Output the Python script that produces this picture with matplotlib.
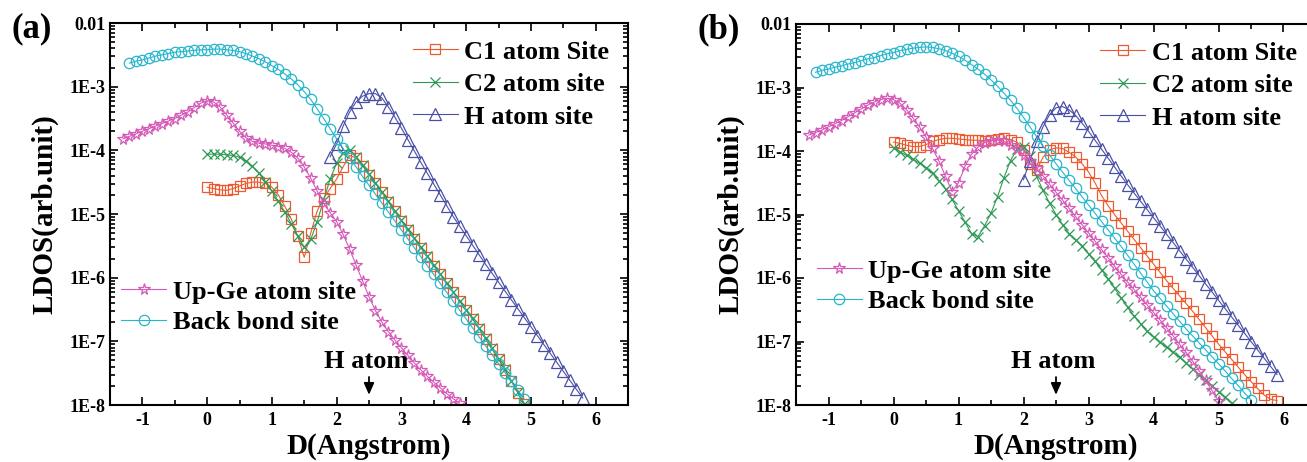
import numpy as np
import matplotlib
matplotlib.use("Agg")
import matplotlib.pyplot as plt
from matplotlib.ticker import LogLocator, FixedLocator, FixedFormatter, MultipleLocator, NullFormatter

plt.rcParams['font.family'] = ['Liberation Serif', 'DejaVu Serif']
plt.rcParams['font.weight'] = 'bold'
plt.rcParams['axes.unicode_minus'] = False

# sampling step of the LDOS profiles along D (Angstrom)
STEP = 0.1

# ---- panel (a): log10 LDOS ----
a_cyan_x0 = -1.2
a_cyan = [-2.63, -2.60, -2.58, -2.55, -2.52, -2.50, -2.48, -2.46, -2.45, -2.44,
          -2.43, -2.42, -2.42, -2.41, -2.41, -2.42, -2.43, -2.45, -2.48, -2.52,
          -2.56, -2.61, -2.67, -2.73, -2.80, -2.88, -2.97, -3.08, -3.20, -3.35,
          -3.50, -3.66, -3.82, -3.97, -4.12, -4.26, -4.41, -4.55, -4.69, -4.83,
          -4.97, -5.11, -5.25, -5.39, -5.53, -5.67, -5.81, -5.95, -6.09, -6.23,
          -6.37, -6.51, -6.65, -6.79, -6.93, -7.07, -7.21, -7.35, -7.49, -7.63,
          -7.77, -7.91]
a_green_x0 = 0.0
a_green = [-4.06, -4.06, -4.06, -4.07, -4.08, -4.11, -4.17, -4.25, -4.36, -4.49,
           -4.64, -4.80, -4.97, -5.15, -5.35, -5.52, -5.40, -5.12, -4.78, -4.45,
           -4.20, -4.04, -4.00, -4.10, -4.23, -4.37, -4.51, -4.65, -4.80, -4.95,
           -5.10, -5.24, -5.38, -5.52, -5.66, -5.80, -5.94, -6.08, -6.22, -6.36,
           -6.50, -6.64, -6.79, -6.95, -7.11, -7.27, -7.44, -7.62, -7.80, -7.98]
a_orange_x0 = 0.0
a_orange = [-4.58, -4.60, -4.62, -4.63, -4.60, -4.56, -4.52, -4.50, -4.50, -4.52,
            -4.58, -4.70, -4.88, -5.08, -5.35, -5.68, -5.30, -4.95, -4.75, -4.60,
            -4.45, -4.26, -4.08, -4.12, -4.24, -4.38, -4.52, -4.66, -4.81, -4.96,
            -5.11, -5.25, -5.39, -5.53, -5.67, -5.81, -5.95, -6.09, -6.23, -6.37,
            -6.51, -6.65, -6.80, -6.96, -7.12, -7.28, -7.45, -7.63, -7.81, -7.99]
a_pink_x0 = -1.3
a_pink = [-3.82, -3.78, -3.74, -3.70, -3.66, -3.62, -3.58, -3.54, -3.50, -3.45,
          -3.40, -3.33, -3.26, -3.22, -3.24, -3.32, -3.44, -3.57, -3.70, -3.80,
          -3.86, -3.89, -3.90, -3.92, -3.94, -3.97, -4.03, -4.12, -4.26, -4.44,
          -4.64, -4.83, -4.98, -5.12, -5.32, -5.55, -5.80, -6.05, -6.30, -6.52,
          -6.70, -6.85, -6.98, -7.10, -7.22, -7.34, -7.45, -7.55, -7.64, -7.73,
          -7.82, -7.90, -7.97]
a_blue_x0 = 1.9
a_blue = [-4.10, -3.90, -3.62, -3.40, -3.24, -3.15, -3.11, -3.11, -3.18, -3.32,
          -3.48, -3.65, -3.83, -4.01, -4.19, -4.36, -4.53, -4.70, -4.87, -5.04,
          -5.19, -5.34, -5.49, -5.64, -5.79, -5.93, -6.07, -6.21, -6.35, -6.49,
          -6.63, -6.77, -6.91, -7.05, -7.19, -7.33, -7.47, -7.61, -7.75, -7.89]

# ---- panel (b) ----
b_cyan_x0 = -1.2
b_cyan = [-2.76, -2.73, -2.71, -2.68, -2.66, -2.63, -2.61, -2.58, -2.55, -2.53,
          -2.50, -2.47, -2.45, -2.42, -2.40, -2.38, -2.37, -2.36, -2.37, -2.39,
          -2.42, -2.46, -2.51, -2.57, -2.64, -2.71, -2.79, -2.88, -2.98, -3.09,
          -3.20, -3.33, -3.47, -3.62, -3.77, -3.92, -4.06, -4.20, -4.33, -4.46,
          -4.59, -4.72, -4.85, -4.98, -5.11, -5.24, -5.37, -5.50, -5.64, -5.78,
          -5.92, -6.06, -6.20, -6.32, -6.44, -6.56, -6.68, -6.80, -6.91, -7.02,
          -7.13, -7.24, -7.35, -7.46, -7.58, -7.69, -7.81, -7.92]
b_orange_x0 = 0.0
b_orange = [-3.86, -3.88, -3.91, -3.93, -3.93, -3.90, -3.85, -3.82, -3.80, -3.80,
            -3.81, -3.82, -3.83, -3.83, -3.84, -3.83, -3.81, -3.80, -3.82, -3.86,
            -3.98, -4.20, -4.30, -4.10, -3.98, -3.95, -3.96, -4.02, -4.09, -4.20,
            -4.33, -4.50, -4.70, -4.86, -5.00, -5.13, -5.26, -5.39, -5.52, -5.65,
            -5.78, -5.91, -6.04, -6.16, -6.28, -6.40, -6.52, -6.65, -6.78, -6.91,
            -7.04, -7.16, -7.28, -7.40, -7.52, -7.63, -7.74, -7.84, -7.91, -7.93]
b_green_x0 = 0.0
b_green = [-3.95, -4.01, -4.07, -4.13, -4.19, -4.26, -4.35, -4.47, -4.60, -4.76,
           -4.94, -5.12, -5.30, -5.35, -5.18, -4.98, -4.72, -4.42, -4.15, -3.97,
           -3.93, -4.08, -4.40, -4.62, -4.82, -5.00, -5.16, -5.30, -5.40, -5.50,
           -5.62, -5.74, -5.87, -6.01, -6.16, -6.31, -6.46, -6.60, -6.72, -6.84,
           -6.93, -7.01, -7.09, -7.17, -7.25, -7.34, -7.43, -7.52, -7.61, -7.70,
           -7.79, -7.88, -7.97]
b_pink_x0 = -1.3
b_pink = [-3.75, -3.71, -3.67, -3.62, -3.57, -3.52, -3.46, -3.40, -3.34, -3.28,
          -3.23, -3.19, -3.17, -3.19, -3.25, -3.35, -3.48, -3.62, -3.78, -3.96,
          -4.16, -4.40, -4.64, -4.50, -4.24, -4.05, -3.94, -3.87, -3.84, -3.83,
          -3.85, -3.90, -3.97, -4.06, -4.15, -4.27, -4.39, -4.52, -4.65, -4.77,
          -4.90, -5.03, -5.16, -5.29, -5.42, -5.55, -5.68, -5.81, -5.94, -6.06,
          -6.18, -6.30, -6.42, -6.54, -6.66, -6.78, -6.91, -7.04, -7.17, -7.31,
          -7.46, -7.61, -7.77, -7.93]
b_blue_x0 = 2.0
b_blue = [-4.45, -4.15, -3.85, -3.62, -3.43, -3.32, -3.30, -3.35, -3.44, -3.56,
          -3.69, -3.83, -3.97, -4.11, -4.25, -4.39, -4.53, -4.66, -4.79, -4.92,
          -5.05, -5.18, -5.31, -5.44, -5.57, -5.70, -5.83, -5.96, -6.09, -6.22,
          -6.35, -6.48, -6.61, -6.74, -6.87, -7.00, -7.13, -7.26, -7.39, -7.52]

labels_top = ["C1 atom Site", "C2 atom site", "H atom site"]
labels_bot = ["Up-Ge atom site", "Back bond site"]
ytick_vals = [1e-8, 1e-7, 1e-6, 1e-5, 1e-4, 1e-3, 1e-2]
ytick_text = ["1E-8", "1E-7", "1E-6", "1E-5", "1E-4", "1E-3", "0.01"]

C_ORANGE = "#ee5a2f"
C_GREEN = "#2f9a55"
C_BLUE = "#4a4fa6"
C_PINK = "#d55ab8"
C_CYAN = "#27b6cc"


def series(x0, logs):
    y = 10.0 ** np.array(logs)
    x = x0 + STEP * np.arange(len(y))
    return x, y


def panel(ax, d, label, leg_top, leg_bot):
    kw = dict(lw=0.8, mfc="none", mew=0.9)
    l_or, = ax.plot(*series(*d["orange"]), color=C_ORANGE, marker="s", ms=6.5, **kw)
    l_gr, = ax.plot(*series(*d["green"]), color=C_GREEN, marker="x", ms=7, **kw)
    l_bl, = ax.plot(*series(*d["blue"]), color=C_BLUE, marker="^", ms=8, **kw)
    l_pk, = ax.plot(*series(*d["pink"]), color=C_PINK, marker="*", ms=8.5, **kw)
    l_cy, = ax.plot(*series(*d["cyan"]), color=C_CYAN, marker="o", ms=7.5, **kw)

    ax.set_yscale("log")
    ax.set_xlim(-1.5, 6.5)
    ax.set_ylim(1e-8, 1e-2)
    ax.xaxis.set_major_locator(MultipleLocator(1))
    ax.xaxis.set_minor_locator(MultipleLocator(0.5))
    ax.yaxis.set_major_locator(FixedLocator(ytick_vals))
    ax.yaxis.set_major_formatter(FixedFormatter(ytick_text))
    ax.yaxis.set_minor_locator(LogLocator(base=10, subs=np.arange(2, 10)))
    ax.yaxis.set_minor_formatter(NullFormatter())
    ax.tick_params(which="both", direction="in", top=True, right=True, width=1.2)
    ax.tick_params(which="major", length=6, pad=5)
    ax.tick_params(which="minor", length=3.5)
    ax.tick_params(axis="x", labelsize=13)
    ax.tick_params(axis="y", labelsize=13, pad=3)
    for s in ax.spines.values():
        s.set_linewidth(1.5)
    for t in ax.get_xticklabels() + ax.get_yticklabels():
        t.set_fontweight("bold")

    ax.set_xlabel("D(Angstrom)", fontsize=21, fontweight="bold", labelpad=3)
    ax.set_ylabel("LDOS(arb.unit)", fontsize=21, fontweight="bold", labelpad=8)

    ax.text(2.45, 10 ** -7.32, "H atom", ha="center", va="center", fontsize=19, fontweight="bold")
    ax.annotate("", xy=(2.5, 10 ** -7.84), xytext=(2.5, 10 ** -7.56),
                arrowprops=dict(arrowstyle="-|>,head_length=0.5,head_width=0.22",
                                color="k", lw=1.3, mutation_scale=14,
                                shrinkA=0, shrinkB=0))

    lg1 = ax.legend([l_or, l_gr, l_bl], labels_top, loc="upper left", bbox_to_anchor=leg_top,
                    frameon=False, handlelength=1.7, handletextpad=0.25,
                    labelspacing=0.34, borderpad=0, borderaxespad=0, numpoints=1,
                    prop=dict(weight="bold", size=19))
    ax.add_artist(lg1)
    ax.legend([l_pk, l_cy], labels_bot, loc="upper left", bbox_to_anchor=leg_bot,
              frameon=False, handlelength=1.7, handletextpad=0.25,
              labelspacing=0.28, borderpad=0, borderaxespad=0, numpoints=1,
              prop=dict(weight="bold", size=19))
    ax.text(-0.19, 0.985, label, transform=ax.transAxes, ha="left", va="center",
            fontsize=25, fontweight="bold")


fig = plt.figure(figsize=(13.07, 4.62), dpi=100)
ax_a = fig.add_axes([110 / 1307, 1 - 405 / 462, 518 / 1307, 382 / 462])
ax_b = fig.add_axes([796 / 1307, 1 - 405 / 462, 520 / 1307, 381 / 462])

data_a = {"cyan": (a_cyan_x0, a_cyan), "green": (a_green_x0, a_green),
          "orange": (a_orange_x0, a_orange), "pink": (a_pink_x0, a_pink),
          "blue": (a_blue_x0, a_blue)}
data_b = {"cyan": (b_cyan_x0, b_cyan), "green": (b_green_x0, b_green),
          "orange": (b_orange_x0, b_orange), "pink": (b_pink_x0, b_pink),
          "blue": (b_blue_x0, b_blue)}

panel(ax_a, data_a, "(a)", (0.585, 0.955), (0.022, 0.327))
panel(ax_b, data_b, "(b)", (0.585, 0.955), (0.040, 0.383))

fig.savefig("out.png", dpi=100)
